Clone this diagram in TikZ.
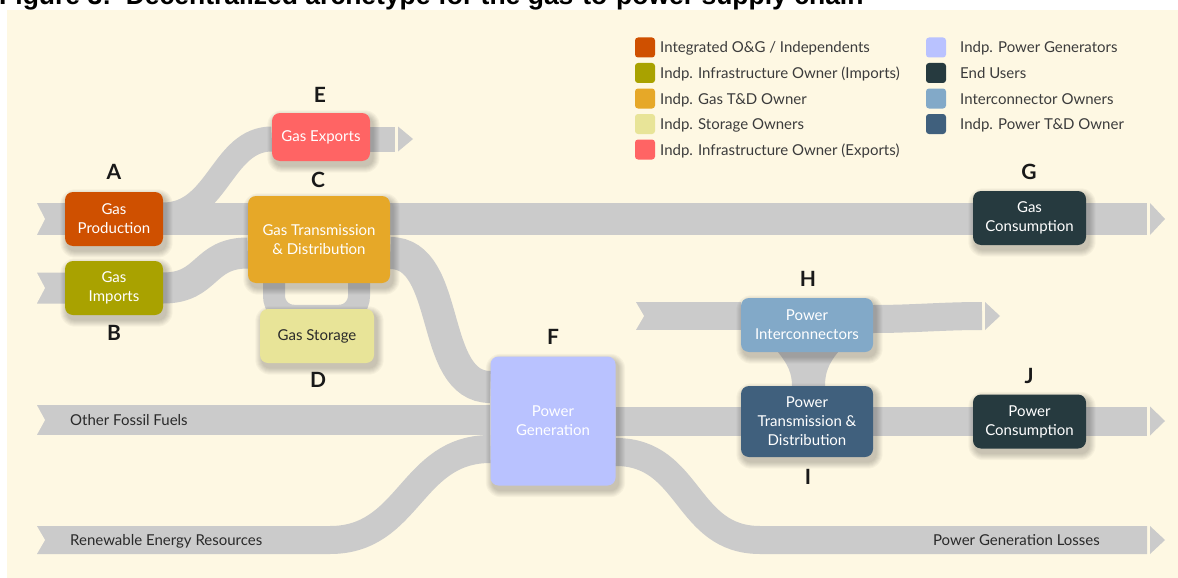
\documentclass[tikz,border=0pt]{standalone}
\usepackage{fontspec}
\setmainfont{Lato}
\newfontfamily\titlefont{Liberation Sans}
\usetikzlibrary{calc}

\definecolor{paper}{HTML}{FEF8E3}
\definecolor{flowgray}{HTML}{CBCBCB}
\definecolor{cOG}{HTML}{CF5000}
\definecolor{cImp}{HTML}{A9A200}
\definecolor{cGasTD}{HTML}{E6A828}
\definecolor{cStor}{HTML}{E8E498}
\definecolor{cExp}{HTML}{FF6464}
\definecolor{cGen}{HTML}{B9C2FF}
\definecolor{cEnd}{HTML}{263A3F}
\definecolor{cInter}{HTML}{82A9C8}
\definecolor{cPowTD}{HTML}{40607D}
\definecolor{ink}{HTML}{2A2A2A}
\definecolor{legendink}{HTML}{3C3C3C}

\pgfdeclarelayer{bg}
\pgfdeclarelayer{flows}
\pgfdeclarelayer{shade}
\pgfsetlayers{bg,flows,shade,main}

% ribbon tail notch at the start of a flow band: #1 start point, #2 band width
\newcommand\flowtail[2]{\fill[paper] ($(#1)+(-0.5,-#2/2-0.5)$) -- ($(#1)+(8,0)$) -- ($(#1)+(-0.5,#2/2+0.5)$) -- cycle;}
% detached arrow head at the end of a flow band
\newcommand\flowtip[2]{\fill[flowgray] ($(#1)+(3,-#2/2)$) -- ($(#1)+(18,0)$) -- ($(#1)+(3,#2/2)$) -- cycle;}

\begin{document}
\begin{tikzpicture}[x=1pt,y=-1pt,
  flow/.style={draw=flowgray, line width=#1, line cap=butt},
  box/.style={rounded corners=8pt, align=center, inner sep=0pt, text=white,
    font=\fontsize{15}{19}\selectfont},
  tag/.style={font=\bfseries\fontsize{21}{21}\selectfont, text=black!90, inner sep=0pt},
  swatch/.style={rounded corners=3pt, minimum width=20pt, minimum height=20pt, inner sep=0pt},
  legendtext/.style={font=\fontsize{15}{16}\selectfont, text=legendink, inner sep=0pt, anchor=base west},
  bandtext/.style={font=\fontsize{15}{16}\selectfont, text=ink, inner sep=0pt}]

\useasboundingbox (0,0) rectangle (1178,578);
\clip (0,0) rectangle (1178,578);

\begin{pgfonlayer}{bg}
  \fill[white] (0,0) rectangle (1178,578);
  \fill[paper] (7,10) rectangle (1178,578);
\end{pgfonlayer}

\node[anchor=base west, inner sep=0pt, font=\titlefont\bfseries\fontsize{26.5}{30}\selectfont]
  (title) at (-1,4.5) {Figure 3:\ \ Decentralized archetype for the gas-to-power supply chain};

% ---------- nodes ----------
\node[box, fill=cOG, minimum width=98pt, minimum height=54pt] (A) at (114,219) {Gas\\Production};
\node[box, fill=cImp, minimum width=98pt, minimum height=54pt] (B) at (114,288) {Gas\\Imports};
\node[box, fill=cGasTD, minimum width=142pt, minimum height=87pt] (C) at (319,239.5) {Gas Transmission\\\& Distribution};
\node[box, fill=cStor, text=ink, minimum width=114pt, minimum height=54pt] (D) at (317,336) {Gas Storage};
\node[box, fill=cExp, minimum width=98pt, minimum height=48pt] (E) at (321,137) {Gas Exports};
\node[box, fill=cGen, minimum width=125pt, minimum height=129pt] (F) at (553,421) {Power\\Generation};
\node[box, fill=cEnd, minimum width=113pt, minimum height=54pt] (G) at (1029.5,218) {Gas\\Consumption};
\node[box, fill=cInter, minimum width=132pt, minimum height=54pt] (H) at (807,325) {Power\\Interconnectors};
\node[box, fill=cPowTD, minimum width=132pt, minimum height=71pt] (I) at (807,421.5) {Power\\Transmission \&\\Distribution};
\node[box, fill=cEnd, minimum width=113pt, minimum height=54pt] (J) at (1029.5,421.5) {Power\\Consumption};

% soft drop shadows under the boxes, cast down and to the right
\begin{pgfonlayer}{shade}
  \foreach \n in {A,B,C,D,E,F,G,H,I,J}{
    \foreach \r in {1,...,7}{
      \fill[black, opacity=0.032, rounded corners=8+\r]
        ($(\n.south west)+(2.5-\r,4.5+\r)$) rectangle ($(\n.north east)+(2.5+\r,4.5-\r)$);
    }
  }
\end{pgfonlayer}

% ---------- letter tags ----------
\node[tag] (tA) at (114,172) {A};
\node[tag] (tB) at (114,333) {B};
\node[tag] (tC) at (318,180) {C};
\node[tag] (tD) at (318,380) {D};
\node[tag] (tE) at (320,95) {E};
\node[tag] (tF) at (553,337) {F};
\node[tag] (tG) at (1029,172) {G};
\node[tag] (tH) at (808,279) {H};
\node[tag] (tI) at (808,477) {I};
\node[tag] (tJ) at (1029,376) {J};

% ---------- flow end points ----------
\coordinate (gasSrc) at (37,219);
\coordinate (gasSink) at (1147,219);
\coordinate (impSrc) at (37,288);
\coordinate (expSink) at (395,139);
\coordinate (fosSrc) at (37,420);
\coordinate (renSrc) at (37,540);
\coordinate (renBend) at (330,540);
\coordinate (powSink) at (1147,421);
\coordinate (lossBend) at (760,540);
\coordinate (lossSink) at (1147,540);
\coordinate (icSrc) at (636,316);
\coordinate (icSink) at (982,316);

% ---------- flows ----------
\begin{pgfonlayer}{flows}
  % gas: production -> T&D -> consumption
  \draw[flow=32] (gasSrc) -- (gasSink);
  \flowtail{gasSrc}{32}
  \flowtip{gasSink}{32}
  % gas imports
  \draw[flow=31] (impSrc) -- (B.east) .. controls +(45,0) and +(-45,0) .. ([yshift=-13.5pt]C.west);
  \flowtail{impSrc}{31}
  % exports branch
  \draw[flow=25] ([yshift=4pt]A.east) .. controls +(55,0) and +(-50,0) .. ([yshift=-2pt]E.west);
  \draw[flow=25] ([yshift=-2pt]E.east) -- (expSink);
  \flowtip{expSink}{25}
  % storage loop
  \draw[flow=22, rounded corners=20pt] ([xshift=-45pt]C.south) -- ([xshift=-43pt,yshift=-7pt]D.north)
    -- ([xshift=42pt,yshift=-7pt]D.north) -- ([xshift=40pt]C.south);
  % gas to power generation
  \draw[flow=32] ([yshift=-13.5pt]C.east) .. controls +(62,0) and +(-62,0) .. ([yshift=34pt]F.west);
  % other fossil fuels
  \draw[flow=30] (fosSrc) -- (fosSrc -| F.west);
  \flowtail{fosSrc}{30}
  % renewables
  \draw[flow=28] (renSrc) -- (renBend) .. controls +(80,0) and +(-80,0) .. ([yshift=-28pt]F.west);
  \flowtail{renSrc}{28}
  % power: generation -> T&D -> consumption
  \draw[flow=29] (F.east) -- (powSink);
  \flowtip{powSink}{29}
  % generation losses
  \draw[flow=28] ([yshift=-31pt]F.east) .. controls +(75,0) and +(-75,0) .. (lossBend) -- (lossSink);
  \flowtip{lossSink}{28}
  % interconnectors
  \draw[flow=28] (icSrc) -- ([yshift=9pt]H.west);
  \draw[flow=28] ([yshift=6pt]H.east) .. controls +(40,0) and +(-40,0) .. (icSink);
  \flowtail{icSrc}{28}
  \flowtip{icSink}{28}
  % interconnectors <-> power T&D
  \fill[flowgray] ([xshift=-29pt]H.south) .. controls +(10,12) and +(0,-12) .. ([xshift=-15pt]I.north)
    -- ([xshift=18pt]I.north) .. controls +(0,-12) and +(-10,12) .. ([xshift=31pt]H.south) -- cycle;
\end{pgfonlayer}

% ---------- flow labels ----------
\node[bandtext, anchor=base west] (lFos) at (70,425.5) {Other Fossil Fuels};
\node[bandtext, anchor=base west] (lRen) at (70,545.5) {Renewable Energy Resources};
\node[bandtext, anchor=base east] (lLoss) at (1100,545.5) {Power Generation Losses};

% ---------- legend ----------
\foreach \i/\c/\t in {0/cOG/{Integrated O\&G / Independents},
                      1/cImp/{Indp. Infrastructure Owner (Imports)},
                      2/cGasTD/{Indp. Gas T\&D Owner},
                      3/cStor/{Indp. Storage Owners},
                      4/cExp/{Indp. Infrastructure Owner (Exports)}}{
  \node[swatch, fill=\c] (swL\i) at (645,47.5+25.5*\i) {};
  \node[legendtext] (txL\i) at (660,53+25.5*\i) {\t};
}
\foreach \i/\c/\t in {0/cGen/{Indp. Power Generators},
                      1/cEnd/{End Users},
                      2/cInter/{Interconnector Owners},
                      3/cPowTD/{Indp. Power T\&D Owner}}{
  \node[swatch, fill=\c] (swR\i) at (936,47.5+25.5*\i) {};
  \node[legendtext] (txR\i) at (960,53+25.5*\i) {\t};
}
\end{tikzpicture}
\end{document}
